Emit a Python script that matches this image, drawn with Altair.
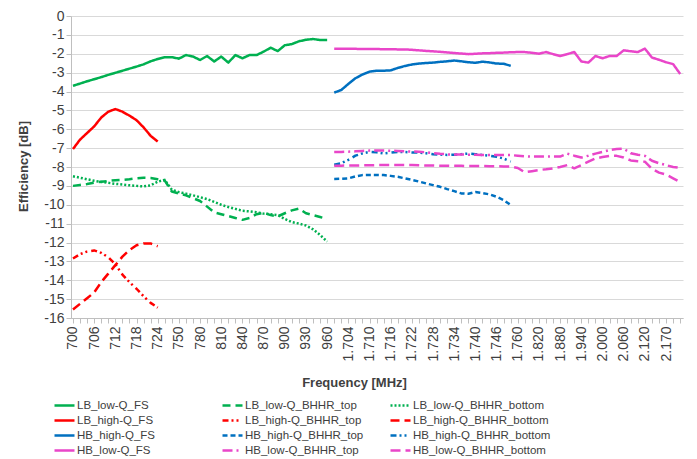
import json
import altair as alt
import pandas as pd

# ---------------- data ----------------
categories = [
    "700", "702", "704", "706", "708", "710", "712", "714", "716", "718", "720", "722", "724",
    "730", "740",
    "750", "760", "770", "780", "790", "800", "810", "820", "830", "840", "850", "860", "870",
    "880", "890", "900", "910", "920", "930", "940", "950", "960",
    "1.700", "1.702", "1.704", "1.706", "1.708", "1.710", "1.712", "1.714", "1.716", "1.718",
    "1.720", "1.722", "1.724", "1.726", "1.728", "1.730", "1.732", "1.734", "1.736", "1.738",
    "1.740", "1.742", "1.744", "1.746", "1.748", "1.750",
    "1.760", "1.780", "1.800", "1.820", "1.840", "1.860", "1.880", "1.900", "1.920", "1.940",
    "1.960", "1.980", "2.000", "2.020", "2.040", "2.060", "2.080", "2.100", "2.120", "2.130",
    "2.150", "2.170", "2.180", "2.200",
]

series_names = [
    "LB_low-Q_FS", "LB_low-Q_BHHR_top", "LB_low-Q_BHHR_bottom",
    "LB_high-Q_FS", "LB_high-Q_BHHR_top", "LB_high-Q_BHHR_bottom",
    "HB_high-Q_FS", "HB_high-Q_BHHR_top", "HB_high-Q_BHHR_bottom",
    "HB_low-Q_FS", "HB_low-Q_BHHR_top", "HB_low-Q_BHHR_bottom",
]
colors = [
    "#00B050", "#00B050", "#00B050",
    "#FF0000", "#FF0000", "#FF0000",
    "#0070C0", "#0070C0", "#0070C0",
    "#E946C9", "#E946C9", "#E946C9",
]
dashes = [
    [1, 0], [8, 5], [2, 2],
    [1, 0], [6, 3, 2, 3, 2, 4], [9, 5],
    [1, 0], [5, 3], [6, 3, 2, 3, 2, 4],
    [1, 0], [10, 4, 2, 4], [10, 5],
]
series_start = [0, 0, 0, 0, 0, 0, 37, 37, 37, 37, 37, 37]

lb_low_fs = [-3.70, -3.58, -3.46, -3.35, -3.24, -3.12, -3.01, -2.90, -2.79, -2.68, -2.56, -2.40,
             -2.28, -2.18, -2.18, -2.26, -2.07, -2.15, -2.33, -2.12, -2.41, -2.15, -2.47, -2.07,
             -2.24, -2.07, -2.07, -1.89, -1.68, -1.86, -1.55, -1.49, -1.34, -1.26, -1.22, -1.27,
             -1.27]
lb_low_top = [-9.00, -8.95, -8.90, -8.83, -8.78, -8.74, -8.70, -8.68, -8.65, -8.60, -8.57, -8.58,
              -8.65, -8.72, -9.30, -9.40, -9.50, -9.65, -9.80, -10.10, -10.40, -10.50, -10.60,
              -10.70, -10.80, -10.70, -10.50, -10.42, -10.55, -10.62, -10.45, -10.30, -10.20,
              -10.45, -10.55, -10.65, -10.75]
lb_low_bottom = [-8.49, -8.57, -8.65, -8.73, -8.79, -8.84, -8.89, -8.93, -8.97, -9.00, -9.03,
                 -8.97, -8.78, -8.68, -9.20, -9.33, -9.41, -9.50, -9.60, -9.70, -9.85, -10.00,
                 -10.12, -10.22, -10.32, -10.35, -10.40, -10.47, -10.50, -10.55, -10.75, -10.92,
                 -11.00, -11.10, -11.30, -11.60, -11.95]
lb_high_fs = [-7.05, -6.55, -6.20, -5.85, -5.38, -5.07, -4.93, -5.07, -5.28, -5.52, -5.90, -6.35,
              -6.65]
lb_high_top = [-12.85, -12.62, -12.48, -12.42, -12.55, -12.78, -13.15, -13.70, -14.10, -14.45,
               -14.85, -15.20, -15.45]
lb_high_bottom = [-15.55, -15.25, -14.95, -14.65, -14.10, -13.65, -13.20, -12.75, -12.40, -12.15,
                  -12.05, -12.05, -12.20]
hb_high_fs = [-4.06, -3.92, -3.60, -3.30, -3.10, -2.95, -2.90, -2.90, -2.88, -2.75, -2.65, -2.57,
              -2.52, -2.49, -2.47, -2.43, -2.40, -2.36, -2.40, -2.45, -2.48, -2.42, -2.46, -2.52,
              -2.53, -2.64]
hb_high_top = [-8.63, -8.62, -8.60, -8.50, -8.43, -8.42, -8.42, -8.43, -8.47, -8.52, -8.60, -8.68,
               -8.77, -8.87, -8.96, -9.05, -9.17, -9.28, -9.40, -9.42, -9.33, -9.38, -9.45, -9.58,
               -9.75, -10.02]
hb_high_bottom = [-7.88, -7.80, -7.62, -7.40, -7.28, -7.20, -7.22, -7.28, -7.24, -7.20, -7.21,
                  -7.23, -7.24, -7.27, -7.32, -7.34, -7.36, -7.35, -7.32, -7.29, -7.32, -7.36,
                  -7.40, -7.46, -7.55, -7.71]
hb_low_fs = [-1.73, -1.73, -1.74, -1.74, -1.75, -1.75, -1.75, -1.76, -1.76, -1.77,
             -1.77, -1.79, -1.82, -1.85, -1.87, -1.90, -1.93, -1.96, -1.99, -2.02,
             -2.00, -1.98, -1.97, -1.95, -1.94, -1.92, -1.91, -1.91, -1.95, -2.00,
             -1.91, -2.02, -2.12, -2.02, -1.91, -2.41, -2.47, -2.12, -2.24, -2.12,
             -2.12, -1.82, -1.87, -1.91, -1.73, -2.20, -2.32, -2.45, -2.55, -3.07]
hb_low_top = [-7.20, -7.20, -7.19, -7.17, -7.15, -7.13, -7.12, -7.13, -7.14, -7.15,
              -7.17, -7.18, -7.19, -7.22, -7.26, -7.30, -7.33, -7.34, -7.34, -7.35,
              -7.35, -7.36, -7.36, -7.36, -7.36, -7.37, -7.40, -7.43, -7.45, -7.45,
              -7.45, -7.45, -7.45, -7.29, -7.40, -7.50, -7.40, -7.29, -7.20, -7.10,
              -7.05, -7.03, -7.27, -7.35, -7.41, -7.67, -7.80, -7.90, -8.00, -8.05]
hb_low_bottom = [-7.93, -7.93, -7.92, -7.92, -7.91, -7.91, -7.90, -7.90, -7.90, -7.90,
                 -7.90, -7.90, -7.91, -7.92, -7.92, -7.93, -7.93, -7.94, -7.94, -7.95,
                 -7.95, -7.95, -7.96, -7.96, -7.97, -7.97, -8.05, -8.28, -8.22, -8.16,
                 -8.12, -8.07, -8.00, -7.90, -8.07, -7.90, -7.72, -7.55, -7.47, -7.41,
                 -7.41, -7.50, -7.65, -7.70, -7.72, -8.10, -8.30, -8.40, -8.60, -8.80]

series_values = [lb_low_fs, lb_low_top, lb_low_bottom, lb_high_fs, lb_high_top, lb_high_bottom,
                 hb_high_fs, hb_high_top, hb_high_bottom, hb_low_fs, hb_low_top, hb_low_bottom]

rows = []
for name, start, vals in zip(series_names, series_start, series_values):
    for k, v in enumerate(vals):
        rows.append({"idx": start + k, "freq": categories[start + k], "value": v, "series": name})
df = pd.DataFrame(rows)

# ---------------- chart ----------------
FONT = "Liberation Sans"
TXT = "#404040"

label_expr = "datum.value % 3 == 0 ? " + json.dumps(categories) + "[datum.value] : ''"

legend = alt.Legend(
    title=None, orient="none", legendX=-14, legendY=382, columns=3, gridAlign="all",
    direction="horizontal",
    symbolType="M-1.6667,0H1.6667", symbolSize=144, symbolStrokeWidth=2.5,
    labelFont=FONT, labelFontSize=11.5, labelColor=TXT,
    columnPadding=2, rowPadding=2, labelOffset=5, padding=0,
)

chart = alt.Chart(df).mark_line(strokeWidth=2.5, strokeCap="butt", strokeJoin="round").encode(
    x=alt.X(
        "idx:Q",
        scale=alt.Scale(domain=[-0.28, 86.4], nice=False, zero=False),
        axis=alt.Axis(
            values=list(range(len(categories))), labelExpr=label_expr, labelAngle=-90,
            labelFont=FONT, labelFontSize=14, labelColor=TXT, labelPadding=3,
            labelOverlap=False, labelFlush=False, tickSize=5, tickColor="#BFBFBF",
            domainColor="#BFBFBF", grid=False,
            title="Frequency [MHz]", titleFont=FONT, titleFontSize=13, titleFontWeight="bold",
            titleColor=TXT, titleX=283, titleY=64, titleAlign="center", titleBaseline="middle",
        ),
    ),
    y=alt.Y(
        "value:Q",
        scale=alt.Scale(domain=[-16, 0], nice=False, zero=False),
        axis=alt.Axis(
            values=list(range(-16, 1)), labelExpr="'' + datum.value",
            labelFont=FONT, labelFontSize=14, labelColor=TXT, labelPadding=2,
            tickSize=5, tickColor="#BFBFBF", domainColor="#BFBFBF",
            grid=True, gridColor="#D9D9D9", gridWidth=1,
            title="Efficiency [dB]", titleFont=FONT, titleFontSize=13, titleFontWeight="bold",
            titleColor=TXT, titleX=-48, titleY=150, titleAngle=270, titleAlign="center",
            titleBaseline="middle",
        ),
    ),
    color=alt.Color("series:N", scale=alt.Scale(domain=series_names, range=colors), legend=legend),
    strokeDash=alt.StrokeDash("series:N", scale=alt.Scale(domain=series_names, range=dashes),
                              legend=legend),
).properties(
    width=612, height=302,
    autosize=alt.AutoSizeParams(type="none"),
    padding={"left": 63, "top": 8, "right": 6, "bottom": 140},
).configure_view(strokeWidth=0)

chart.save("out.html", embed_options={"renderer": "svg", "actions": False})
